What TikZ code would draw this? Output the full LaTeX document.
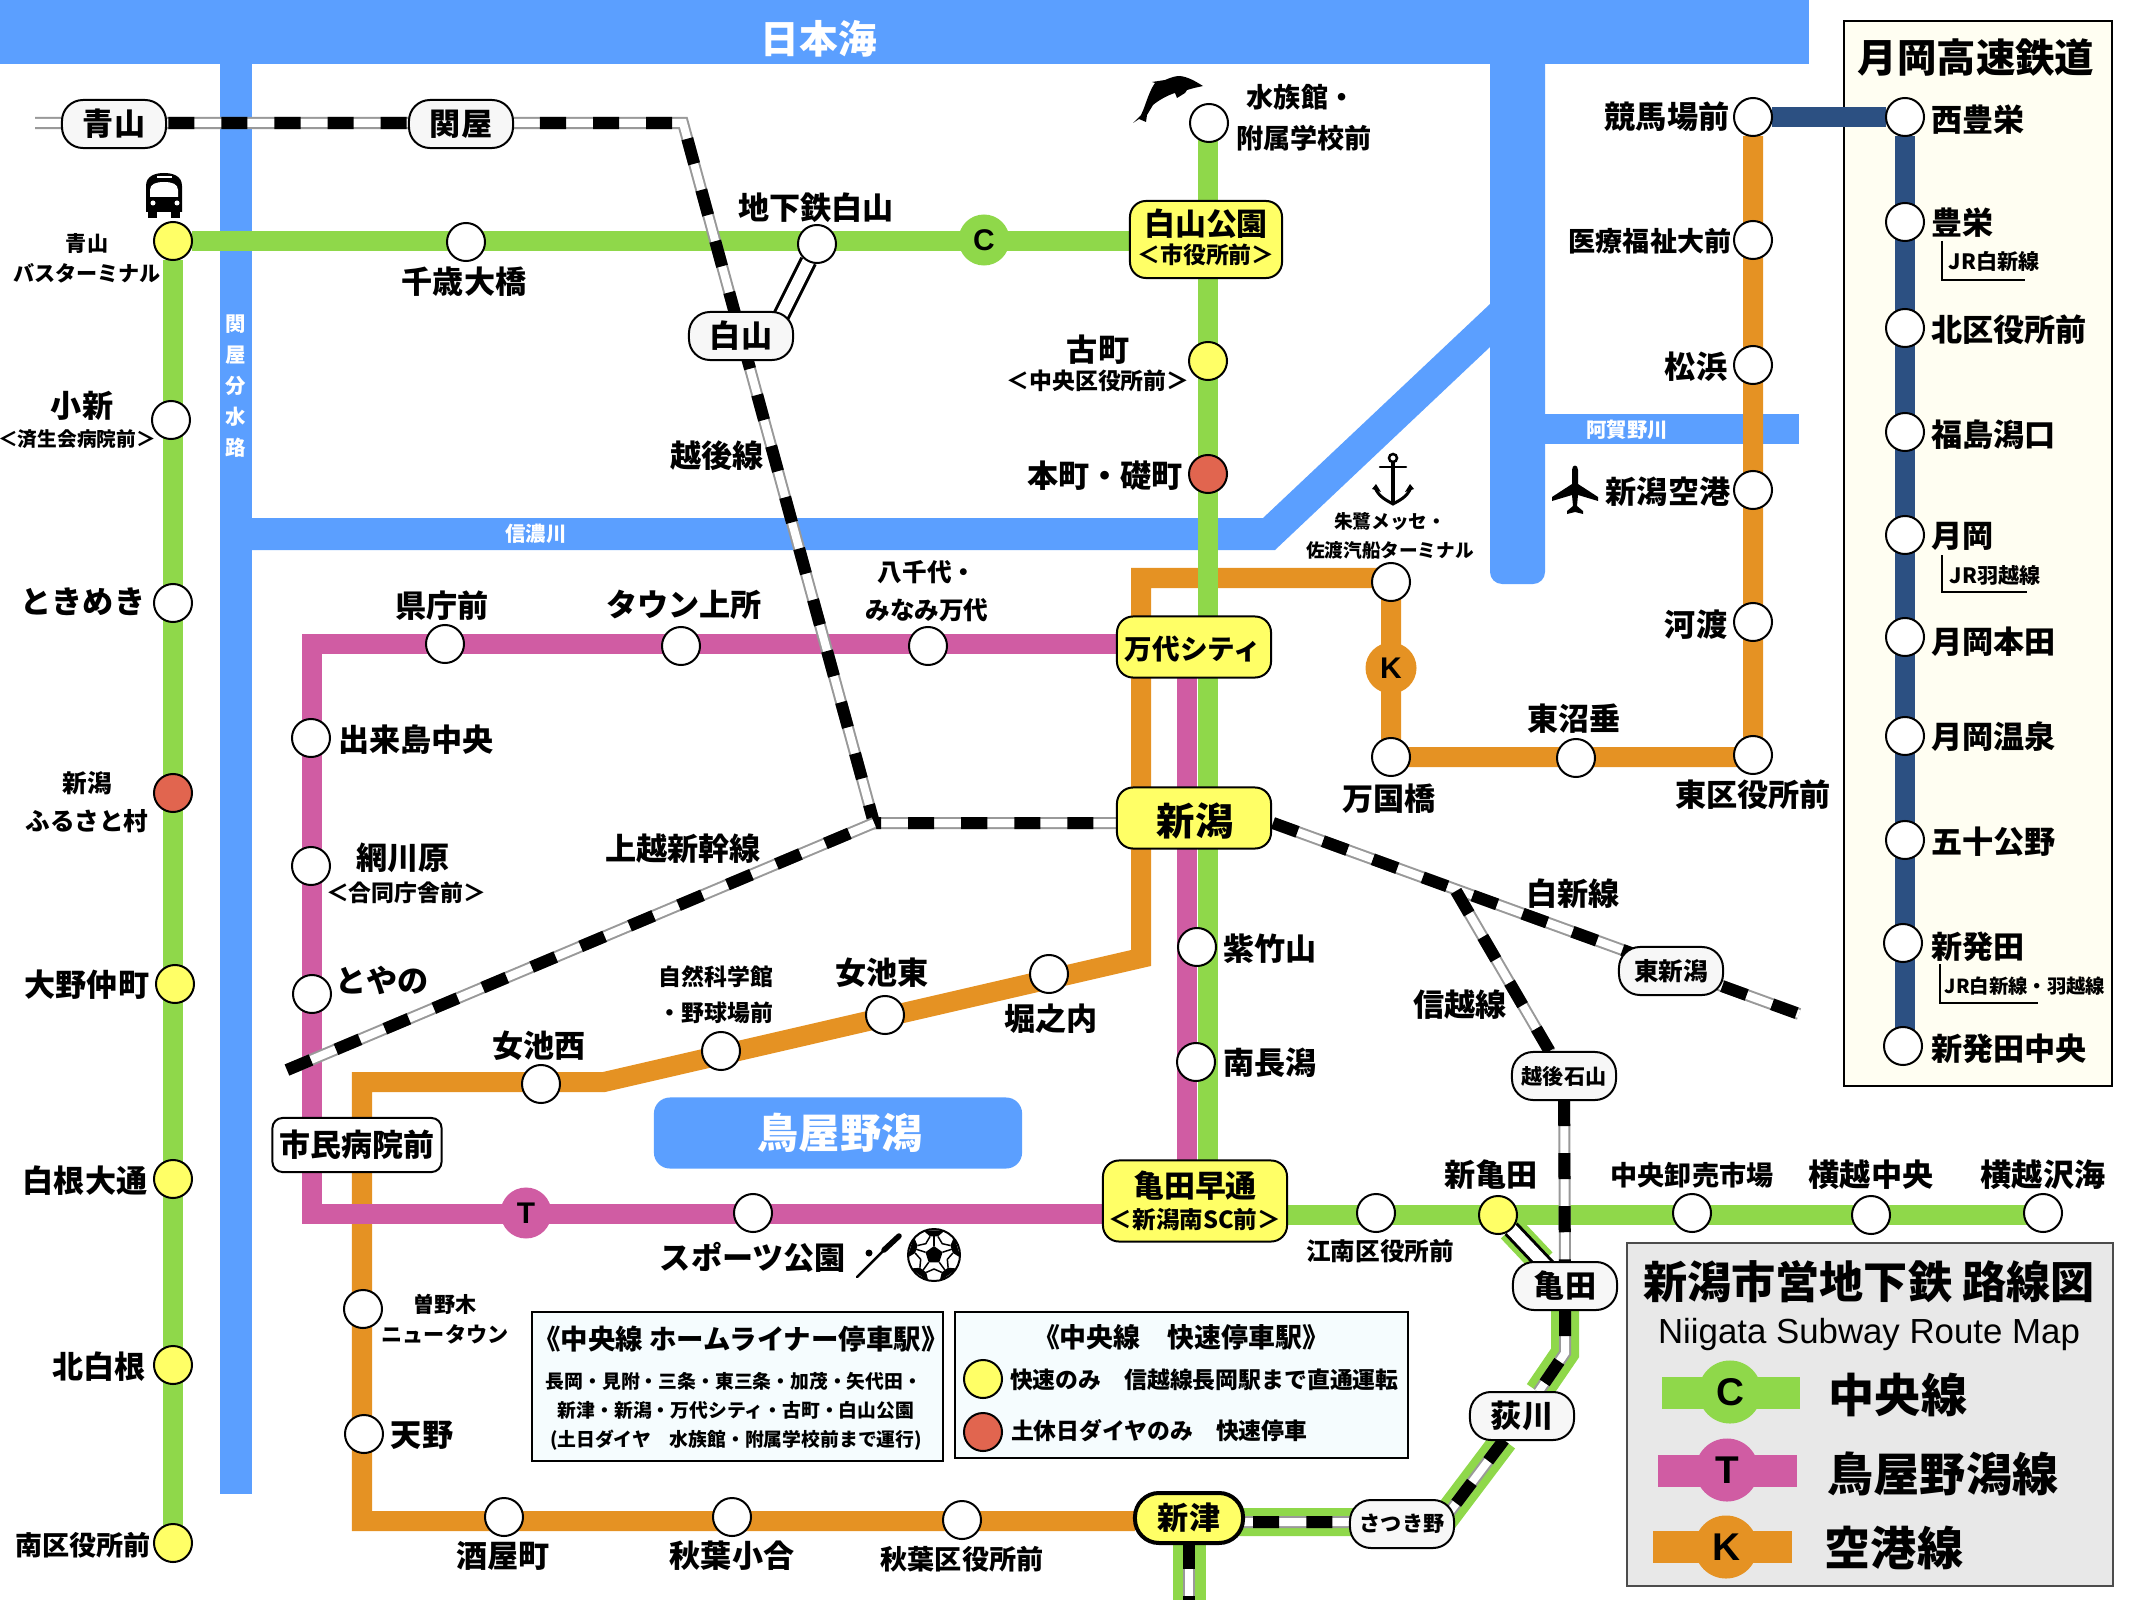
\documentclass[tikz,border=0pt]{standalone}
\usepackage{fontspec}
\setmainfont{Noto Sans CJK JP}
\newfontfamily\latinfont{Liberation Sans}
\newcommand{\pxu}{0.2845pt}
\definecolor{seablue}{HTML}{5B9FFF}
\definecolor{cline}{HTML}{8FD84A}
\definecolor{tline}{HTML}{D05CA3}
\definecolor{kline}{HTML}{E59223}
\definecolor{gline}{HTML}{2C5082}
\definecolor{stnyellow}{HTML}{FFFF66}
\definecolor{stnred}{HTML}{E1654F}
\pgfdeclarelayer{water}
\pgfdeclarelayer{lines}
\pgfsetlayers{water,lines,main}

\begin{document}
\begin{tikzpicture}[x=0.01cm,y=-0.01cm]
	\tikzset{every node/.style={inner sep=0pt, outer sep=0pt}}
	\tikzset{stn/.style={circle, draw=black, fill=white, line width=2*\pxu, minimum size=38*\pxu}}
	\tikzset{ystn/.style={stn, fill=stnyellow}}
	\tikzset{rstn/.style={stn, fill=stnred}}
	\tikzset{badge/.style={circle, minimum size=51*\pxu, font=\latinfont\bfseries\fontsize{8.5}{10}\selectfont}}
	\tikzset{sz/.style 2 args={minimum width=#1*\pxu, minimum height=#2*\pxu}}
	\tikzset{ybox/.style={draw=black, fill=stnyellow, line width=2*\pxu, rounded corners=16*\pxu, align=center}}
	\tikzset{jrbox/.style={draw=black, fill=black!3, line width=2*\pxu, rounded corners=21*\pxu, sz={104}{48}, align=center}}
	\tikzset{txtL/.style={font=\bfseries\fontsize{8.85}{10.5}\selectfont}}
	\tikzset{txtM/.style={font=\bfseries\fontsize{7.7}{10}\selectfont}}
	\tikzset{txtS/.style={font=\bfseries\fontsize{7}{10.5}\selectfont}}
	\tikzset{txtXS/.style={font=\bfseries\fontsize{6}{8.5}\selectfont}}
	\tikzset{txtNote/.style={font=\bfseries\fontsize{5.35}{8}\selectfont}}
	\tikzset{txtWater/.style={text=white, font=\bfseries\fontsize{5.8}{8}\selectfont}}
	\tikzset{water/.style={fill=seablue}}
	\tikzset{green/.style={draw=cline, line width=20*\pxu}}
	\tikzset{magenta/.style={draw=tline, line width=20*\pxu}}
	\tikzset{orange/.style={draw=kline, line width=20*\pxu}}
	\tikzset{navy/.style={draw=gline, line width=20*\pxu}}
	\tikzset{rail/.style={line width=12*\pxu, draw=black, dash pattern=on 7.4pt off 7.7pt,
		preaction={draw=black!40, solid, line width=12*\pxu},
		preaction={draw=white, solid, line width=8*\pxu}}}
	\tikzset{link/.style={draw=black, line width=18*\pxu, postaction={draw=white, line width=12*\pxu}}}
	\tikzset{jrmark/.style={draw=black, line width=2*\pxu}}

	\useasboundingbox (0,0) rectangle (2133,1600);

	% water
	\begin{pgfonlayer}{water}
		\fill[water] (0,0) rectangle (1809,64);
		\fill[water] (220,64) rectangle (252,1494);
		\fill[water] (252,518) -- (1263,518) -- (1490,304) -- (1490,347) -- (1275,550) -- (252,550) -- cycle;
		\fill[water] (1490,0) -- (1545,0) -- (1545,572) arc[start angle=0, end angle=90, radius=12] -- (1502,584) arc[start angle=90, end angle=180, radius=12] -- cycle;
		\fill[water] (1545,414) rectangle (1799,444);
		\node[water, rounded corners=16*\pxu, sz={368}{71}] (toyanolake) at (838,1133) {};
		\node[draw=black, fill=yellow!5, line width=2*\pxu, sz={268}{1065}] (tsukiokabox) at (1978,553.5) {};
		\node[draw=black, fill=cyan!4, line width=2*\pxu, sz={411}{149}] (linerbox) at (737.5,1386.5) {};
		\node[draw=black, fill=cyan!4, line width=2*\pxu, sz={453}{146}] (rapidbox) at (1181.5,1385) {};
	\end{pgfonlayer}
	\node[text=white, font=\bfseries\fontsize{11}{12}\selectfont] (seatxt) at (819,39) {日本海};
	\node[text=white, font=\bfseries\fontsize{11.7}{12}\selectfont] (laketxt) at (840,1133) {鳥屋野潟};
	\node[txtWater] (shinanotxt) at (536,534) {信濃川};
	\node[txtWater] (aganotxt) at (1627,430) {阿賀野川};
	\node[txtWater, align=center, font=\bfseries\fontsize{5.8}{8.85}\selectfont] (canaltxt) at (236,386) {関\\屋\\分\\水\\路};

	% stations
	\foreach \n/\x/\y in {aoyamabt/173/241,shirone/173/1179,kitashirone/173/1365,minamiku/173/1543,ononaka/175/984,furumachi/1208/361,shinkameda/1498/1215}
		\node[ystn] (\n) at (\x,\y) {};
	\foreach \n/\x/\y in {furusato/173/793,honcho/1208/474}
		\node[rstn] (\n) at (\x,\y) {};
	\foreach \n/\x/\y in {koshin/171/420,tokimeki/173/603,chitose/466/242,chikahakusan/817/244,suizokukan/1209/123,
		shichiku/1197/947,minaminagata/1196/1062,konan/1376/1213,oroshi/1692/1213,yokogoshi/1871/1215,sonoumi/2043/1213,
		kencho/445/644,uwatokoro/681/646,yachiyo/928/646,dekijima/311/738,amikawara/311/866,toyano/312/994,sports/753/1213,
		sonoki/363/1309,amano/364/1434,sakaya/504/1517,koai/732/1517,akihaku/962/1520,
		meikenishi/541/1084,shizen/721/1051,meikehigashi/885/1015,horinouchi/1049/974,
		tokimesse/1391/582,bankoku/1391/757,nuttari/1576/758,higashiku/1753/755,kodo/1753/622,
		kuko/1753/490,matsuhama/1753/365,iryo/1753/240,keiba/1753/117,
		nishitoyo/1905/117,toyosaka/1905/222,kitaku/1905/328,fukushima/1905/432,tsukioka/1905/535,
		tsukihonda/1905/637,tsukionsen/1905/736,ijimino/1905/840,shibata/1903/943,shibatachuo/1903/1046}
		\node[stn] (\n) at (\x,\y) {};

	\node[badge, fill=cline] (cbadge) at (984,240) {C};
	\node[badge, fill=tline] (tbadge) at (526,1213) {T};
	\node[badge, fill=kline] (kbadge) at (1391,668) {K};

	\node[ybox, sz={152}{77}] (hakusanpark) at (1206,239.5) {};
	\node[font=\bfseries\fontsize{8.8}{9}\selectfont] (thakusanpark) at (1206,224) {白山公園};
	\node[font=\bfseries\fontsize{6.5}{7}\selectfont] (tshiyakusho) at (1206,255) {＜市役所前＞};
	\node[ybox, sz={154}{61}] (bandai) at (1194,647) {};
	\node[font=\bfseries\fontsize{7.85}{9}\selectfont] (tbandai) at (1193,649) {万代シティ};
	\node[ybox, sz={154}{61}] (niigata) at (1194,818) {};
	\node[font=\bfseries\fontsize{10.9}{12}\selectfont] (tniigata) at (1195,821) {新潟};
	\node[ybox, sz={184}{81}] (hayadori) at (1195,1201) {};
	\node[font=\bfseries\fontsize{8.8}{9}\selectfont] (thayadori) at (1195,1186) {亀田早通};
	\node[font=\bfseries\fontsize{6.7}{7}\selectfont] (tnangai) at (1195,1220) {＜新潟南SC前＞};
	\node[ybox, sz={108}{50}, line width=4*\pxu, rounded corners=24*\pxu, txtL] (niitsu) at (1189,1518) {新津};
	\node[draw=black, fill=white, line width=2*\pxu, rounded corners=10*\pxu, sz={169}{54}, font=\bfseries\fontsize{8.8}{10}\selectfont] (shimin) at (357,1145) {市民病院前};

	\node[jrbox, txtL] (aoyama) at (114,124) {青山};
	\node[jrbox, txtL] (sekiya) at (461,124) {関屋};
	\node[jrbox, txtL] (hakusan) at (741,336) {白山};
	\node[jrbox, txtS] (higashiniigata) at (1671,971) {東新潟};
	\node[jrbox, txtXS] (ishiyama) at (1564,1076) {越後石山};
	\node[jrbox, txtL] (kameda) at (1565,1286) {亀田};
	\node[jrbox, txtL] (ogikawa) at (1522,1416) {荻川};
	\node[jrbox, txtXS] (satsukino) at (1402,1524) {さつき野};

	% coordinates for the lines
	\coordinate (railw) at (35,123);
	\coordinate (railbenda) at (683,123);
	\coordinate (railbendb) at (874,823);
	\coordinate (railsw) at (287,1070);
	\coordinate (railne) at (1273,823);
	\coordinate (railshin) at (1456,891);
	\coordinate (raile) at (1799,1014);
	\coordinate (railend) at (1189,1600);
	\coordinate (kamedabend) at (1565,1353);
	\coordinate (satsukibend) at (1442,1522);
	\coordinate (satsukimid) at (1402,1522);
	\coordinate (niitsumid) at (1189,1522);
	\coordinate (nwcorner) at (1141,578);
	\coordinate (kdiaga) at (1141,958);
	\coordinate (kdiagb) at (604,1082);
	\coordinate (kcornerw) at (362,1082);
	\coordinate (kcornersw) at (362,1521);
	\coordinate (kne) at (1391,578);
	\coordinate (kse) at (1391,757);
	\coordinate (ksw) at (1753,757);
	\coordinate (tcornerne) at (312,644);
	\coordinate (tcornersw) at (312,1214);
	\coordinate (tbandaicor) at (1187,644);
	\coordinate (thaya) at (1187,1214);
	\coordinate (cnorth) at (1208,123);
	\coordinate (csouth) at (1208,1215);
	\coordinate (hakusanlink) at (772,334);
	\coordinate (kamedalink) at (1552,1272);
	\coordinate (gcorner) at (173,1543);
	\coordinate (gsouth) at (1905,1046);

	% lines
	\begin{pgfonlayer}{lines}
		\draw[orange] (keiba) -- (ksw) -- (kse) -- (kne) -- (nwcorner) -- (kdiaga) -- (kdiagb) -- (kcornerw) -- (kcornersw) -- (niitsu.west |- kcornersw);
		\draw[magenta] (tbandaicor) -- (tcornerne) -- (tcornersw) -- (thaya) -- cycle;
		\draw[green] (aoyamabt) -- (gcorner);
		\draw[green] (aoyamabt) -- (cnorth |- aoyamabt);
		\draw[green] (cnorth) -- (csouth) -- (sonoumi |- csouth);
		\draw[navy] (keiba) -- (nishitoyo) -- (gsouth);
		\draw[green, line width=28*\pxu] (shinkameda) -- (kameda) -- (kamedabend) -- (ogikawa) -- (satsukibend) -- (satsukimid) -- (niitsumid);
		\draw[green, line width=33*\pxu] (niitsu) -- (railend);
		\draw[rail, dash phase=7.4pt] (railw) -- (railbenda) -- (railbendb) -- (niigata.west |- railbendb);
		\draw[rail] (railsw) -- (railbendb);
		\draw[rail] (railne) -- (raile);
		\draw[rail] (railshin) -- (ishiyama);
		\draw[rail] (ishiyama) -- (kameda) -- (kamedabend) -- (ogikawa) -- (satsukibend) -- (satsukimid) -- (niitsumid);
		\draw[rail] (niitsu) -- (railend);
		\draw[link] (chikahakusan) -- (hakusanlink);
		\draw[link] (shinkameda) -- (kamedalink);
	\end{pgfonlayer}

	% labels
	\foreach \n/\x/\y/\t in {tchitose/464/282/千歳大橋,tchika/816/208/地下鉄白山,tkoshin/82/406/小新,ttokimeki/83/602/ときめき,
		tonono/87/985/大野仲町,tshirone/85/1181/白根大通,tkitashirone/99/1367/北白根,tkencho/442/606/県庁前,
		tuwa/684/605/タウン上所,tdeki/416/740/出来島中央,tami/403/858/網川原,ttoyano/382/980/とやの,
		tmeikeh/882/973/女池東,tmeikew/539/1046/女池西,thori/1051/1019/堀之内,tsports/753/1257/スポーツ公園,
		tamano/422/1435/天野,tsakaya/503/1556/酒屋町,tkoai/732/1556/秋葉小合,tfuru/1098/350/古町,
		thoncho/1105/476/本町・礎町,tnuttari/1574/719/東沼垂,tbankoku/1389/799/万国橋,thigashiku/1753/795/東区役所前,
		tkeiba/1667/117/競馬場前,tmatsu/1696/367/松浜,tkuko/1668/492/新潟空港,tkodo/1696/625/河渡,
		tshichi/1270/949/紫竹山,tminami/1270/1063/南長潟,tshinkame/1491/1175/新亀田,tyokogoshi/1871/1175/横越中央,
		tsonoumi/2043/1175/横越沢海,techigo/717/456/越後線,tjoetsu/683/849/上越新幹線,thakushin/1573/894/白新線,tshinetsu/1460/1005/信越線}
		\node[txtL] (\n) at (\x,\y) {\t};
	\foreach \n/\y/\t in {tnishi/120/西豊栄,ttoyo/223/豊栄,tkitaku/330/北区役所前,tfuku/435/福島潟口,ttsuki/536/月岡,
		ttsukih/642/月岡本田,ttsukio/737/月岡温泉,tijimi/842/五十公野,tshiba/947/新発田,tshibac/1049/新発田中央}
		\node[txtL, anchor=west] (\n) at (1931,\y) {\t};
	\foreach \n/\x/\y/\t in {tminamiku/83/1545/南区役所前,takiha/962/1559/秋葉区役所前,tiryo/1650/241/医療福祉大前,toroshi/1692/1175/中央卸売市場,tsuia/1301/97/水族館・,tsuib/1304/138/附属学校前}
		\node[txtM] (\n) at (\x,\y) {\t};
	\node[txtS] (tkonan) at (1380,1251) {江南区役所前};
	\node[txtS, align=center, font=\bfseries\fontsize{7}{10.7}\selectfont] (tyachiyo) at (927,591) {八千代・\\みなみ万代};
	\node[txtS, align=center, font=\bfseries\fontsize{7}{10.7}\selectfont] (tfurusato) at (87,802) {新潟\\ふるさと村};
	\node[txtS, align=center, font=\bfseries\fontsize{6.5}{10.2}\selectfont] (tshizen) at (716,995) {自然科学館\\・野球場前};
	\node[txtXS, align=center] (tbus) at (87,258) {青山\\バスターミナル};
	\node[txtXS, align=center] (tsonoki) at (445,1319) {曽野木\\ニュータウン};
	\node[txtNote, align=center, font=\bfseries\fontsize{5.3}{8.2}\selectfont] (tmesse) at (1390,536) {朱鷺メッセ・\\佐渡汽船ターミナル};
	\node[font=\bfseries\fontsize{5.6}{7}\selectfont] (tsaisei) at (77,439) {＜済生会病院前＞};
	\node[font=\bfseries\fontsize{6.5}{7}\selectfont] (tgodo) at (406,893) {＜合同庁舎前＞};
	\node[font=\bfseries\fontsize{6.5}{7}\selectfont] (tchuoku) at (1098,381) {＜中央区役所前＞};

	% tsukioka
	\node[font=\bfseries\fontsize{11.2}{12}\selectfont] (ttitle) at (1976,58) {月岡高速鉄道};
	\node[font=\bfseries\fontsize{6}{7}\selectfont] (tjra) at (1994,261) {JR白新線};
	\node[font=\bfseries\fontsize{6}{7}\selectfont] (tjrb) at (1995,575) {JR羽越線};
	\node[font=\bfseries\fontsize{5.5}{7}\selectfont] (tjrc) at (2025,986) {JR白新線・羽越線};
	\coordinate (jraa) at (1942,241);
	\coordinate (jrab) at (2025,280);
	\coordinate (jrba) at (1942,555);
	\coordinate (jrbb) at (2027,592);
	\coordinate (jrca) at (1940,964);
	\coordinate (jrcb) at (2038,1003);
	\draw[jrmark] (jraa) |- (jrab);
	\draw[jrmark] (jrba) |- (jrbb);
	\draw[jrmark] (jrca) |- (jrcb);

	% notes
	\node[font=\bfseries\fontsize{7.8}{8}\selectfont] (tliner) at (741,1339) {《中央線 ホームライナー停車駅》};
	\node[txtNote] (tlinera) at (734,1381) {長岡・見附・三条・東三条・加茂・矢代田・};
	\node[txtNote] (tlinerb) at (736,1410) {新津・新潟・万代シティ・古町・白山公園};
	\node[txtNote] (tlinerc) at (736,1440) {(土日ダイヤ　水族館・附属学校前まで運行)};
	\node[font=\bfseries\fontsize{7.65}{8}\selectfont] (trapid) at (1181,1337) {《中央線　快速停車駅》};
	\node[ystn] (noteyellow) at (983,1379) {};
	\node[rstn] (notered) at (983,1432) {};
	\node[font=\bfseries\fontsize{6.5}{8}\selectfont, anchor=west] (trapida) at (1010,1380) {快速のみ　信越線長岡駅まで直通運転};
	\node[font=\bfseries\fontsize{6.5}{8}\selectfont, anchor=west] (trapidb) at (1011,1431) {土休日ダイヤのみ　快速停車};

	% legend
	\node[draw=black!70, fill=black!9, line width=2*\pxu, sz={486}{343}] (legendbox) at (1870,1414.5) {};
	\node[font=\bfseries\fontsize{12.55}{13}\selectfont] (ttitlemap) at (1869,1282) {新潟市営地下鉄 路線図};
	\node[font=\latinfont\fontsize{9.9}{11}\selectfont] (ttitleen) at (1869,1334) {Niigata Subway Route Map};
	\coordinate (legca) at (1662,1393);
	\coordinate (legcb) at (1800,1393);
	\coordinate (legta) at (1658,1471);
	\coordinate (legtb) at (1797,1471);
	\coordinate (legka) at (1653,1547);
	\coordinate (legkb) at (1792,1547);
	\draw[green, line width=32*\pxu] (legca) -- (legcb);
	\draw[magenta, line width=32*\pxu] (legta) -- (legtb);
	\draw[orange, line width=32*\pxu] (legka) -- (legkb);
	\tikzset{legbadge/.style={circle, minimum size=63*\pxu, font=\latinfont\bfseries\fontsize{11}{12}\selectfont}}
	\node[legbadge, fill=cline] (legc) at (1730,1392) {C};
	\node[legbadge, fill=tline] (legt) at (1727,1470) {T};
	\node[legbadge, fill=kline] (legk) at (1726,1547) {K};
	\node[font=\bfseries\fontsize{13.1}{14}\selectfont] (tlegc) at (1898,1395) {中央線};
	\node[font=\bfseries\fontsize{13.1}{14}\selectfont] (tlegt) at (1943,1474) {鳥屋野潟線};
	\node[font=\bfseries\fontsize{13.1}{14}\selectfont] (tlegk) at (1894,1548) {空港線};

	% icons
	\fill (146,212) -- (146,186) .. controls (146,176) and (155,173) .. (164,173) .. controls (173,173) and (182,176) .. (182,186) -- (182,212) -- cycle;
	\fill (148,210) rectangle (157,218);
	\fill (171,210) rectangle (180,218);
	\fill[white] (150,197) -- (150,190) .. controls (150,184) and (156,182) .. (164,182) .. controls (172,182) and (178,184) .. (178,190) -- (178,197) -- cycle;
	\fill[white] (157,176.5) rectangle (172,178.5);
	\fill[white] (153,203) circle[radius=2.5];
	\fill[white] (177,203) circle[radius=2.5];

	\fill (1133,123) -- (1141,115) .. controls (1144,109) and (1146,102) .. (1148,97) .. controls (1150,92) and (1152,87) .. (1155,83) -- (1152,82) -- (1165,80) .. controls (1172,77) and (1176,76) .. (1180,76) .. controls (1188,77) and (1195,81) .. (1203,86) -- (1194,88) -- (1187,90) -- (1185,93) -- (1177,98) -- (1175,93) .. controls (1168,95) and (1159,100) .. (1153,105) -- (1147,115) -- (1146,122) -- (1139,119) -- cycle;

	\draw[line width=2.5*\pxu] (1393,458) circle[radius=4];
	\draw[line width=2.5*\pxu, line cap=round] (1380,467) -- (1406,467);
	\draw[line width=4*\pxu] (1393,462) -- (1393,502);
	\draw[line width=3*\pxu] (1375,487) .. controls (1378,497) and (1388,501) .. (1393,504) .. controls (1398,501) and (1408,497) .. (1411,487);
	\fill (1372,489) -- (1376,484) -- (1381,492) -- cycle;
	\fill (1414,489) -- (1410,484) -- (1405,492) -- cycle;

	\fill (1572,470) -- (1572,484) -- (1552,497) -- (1552,501) -- (1572,495) -- (1573,506) -- (1567,511) -- (1567,514) -- (1575,512) -- (1583,514) -- (1583,511) -- (1577,506) -- (1578,495) -- (1598,501) -- (1598,497) -- (1578,484) -- (1578,470) .. controls (1578,464) and (1572,464) .. cycle;

	\draw[line width=2.5*\pxu, line cap=round] (857,1277) -- (884,1250);
	\draw[line width=5.5*\pxu, line cap=round] (884,1250) -- (899,1236);
	\fill (869,1253) circle[radius=3.5];

	\begin{scope}[shift={(934,1255)}]
		\draw[fill=white, line width=2*\pxu] (0,0) circle[radius=26];
		\clip (0,0) circle[radius=26];
		\fill (-90:9) -- (-18:9) -- (54:9) -- (126:9) -- (198:9) -- cycle;
		\foreach \a in {-90,-18,54,126,198} {
			\fill (\a-24:27) -- (\a-12:19) -- (\a+12:19) -- (\a+24:27) -- cycle;
			\draw[line width=1.5*\pxu] (\a:9) -- (\a:19);
			\draw[line width=1.5*\pxu] (\a+12:19) -- (\a+36:14) -- (\a+60:19);
		}
	\end{scope}
\end{tikzpicture}
\end{document}
